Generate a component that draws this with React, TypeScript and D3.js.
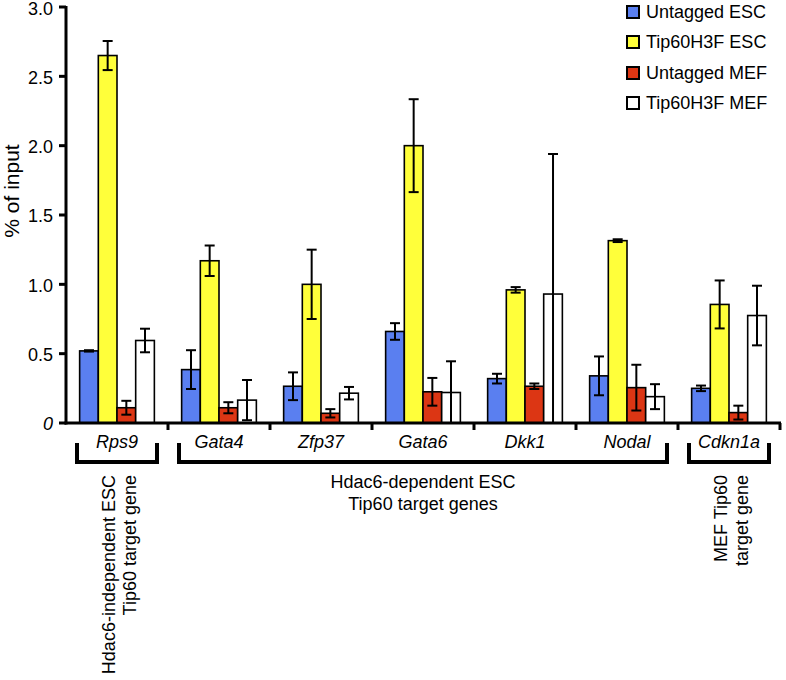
import * as d3 from 'd3';

const genes = ['Rps9', 'Gata4', 'Zfp37', 'Gata6', 'Dkk1', 'Nodal', 'Cdkn1a'];
const seriesNames = ['Untagged ESC', 'Tip60H3F ESC', 'Untagged MEF', 'Tip60H3F MEF'];
const seriesColors = ['#5a7ff0', '#ffff3a', '#dc3614', '#ffffff'];

const untaggedESC = [0.52, 0.385, 0.265, 0.66, 0.32, 0.34, 0.25];
const untaggedESCErr = [0.005, 0.14, 0.1, 0.06, 0.035, 0.14, 0.02];
const tipESC = [2.65, 1.17, 1.0, 2.0, 0.96, 1.315, 0.855];
const tipESCErr = [0.105, 0.11, 0.25, 0.335, 0.02, 0.01, 0.173];
const untaggedMEF = [0.11, 0.11, 0.07, 0.225, 0.265, 0.255, 0.075];
const untaggedMEFErr = [0.05, 0.04, 0.03, 0.1, 0.02, 0.165, 0.05];
const tipMEF = [0.595, 0.165, 0.215, 0.22, 0.93, 0.19, 0.775];
const tipMEFErr = [0.085, 0.145, 0.045, 0.225, 1.01, 0.09, 0.215];

const yTicks = [0, 0.5, 1, 1.5, 2, 2.5, 3];

// gene groups underneath the axis
const brackets = [
  { from: 'Rps9', to: 'Rps9', lines: ['Hdac6-independent ESC', 'Tip60 target gene'], rotated: true },
  { from: 'Gata4', to: 'Nodal', lines: ['Hdac6-dependent ESC', 'Tip60 target genes'], rotated: false },
  { from: 'Cdkn1a', to: 'Cdkn1a', lines: ['MEF Tip60', 'target gene'], rotated: true },
];

const FONT = '"Liberation Sans", Arial, Helvetica, sans-serif';

export default function App() {
  const W = 786;
  const H = 680;
  const values = [untaggedESC, tipESC, untaggedMEF, tipMEF];
  const errors = [untaggedESCErr, tipESCErr, untaggedMEFErr, tipMEFErr];

  const x0 = d3.scaleBand<string>().domain(genes).range([66, 780]).padding(0);
  const x1 = d3.scaleBand<string>().domain(seriesNames).range([0, x0.bandwidth()]).paddingInner(0).paddingOuter(0.73);
  const y = d3.scaleLinear().domain([0, 3]).range([423, 7]);

  const fmt = d3.format('.1f');
  const capW = 10;

  return (
    <svg width={W} height={H} style={{ position: 'absolute', left: 0, top: 0, background: '#fff' }} fontFamily={FONT}>
      {/* bars */}
      {genes.map((g, gi) => (
        <g key={g} transform={`translate(${x0(g)},0)`}>
          {seriesNames.map((s, si) => {
            const v = values[si][gi];
            return (
              <rect key={s} x={x1(s)} y={y(v)} width={x1.bandwidth()} height={y(0) - y(v)}
                fill={seriesColors[si]} stroke="#000" strokeWidth={1.6} />
            );
          })}
          {seriesNames.map((s, si) => {
            const v = values[si][gi];
            const e = errors[si][gi];
            const cx = (x1(s) as number) + x1.bandwidth() / 2;
            const hi = y(v + e);
            const lo = y(Math.max(0, v - e));
            return (
              <g key={s + 'e'} stroke="#000" strokeWidth={2}>
                <line x1={cx} x2={cx} y1={hi} y2={lo} />
                <line x1={cx - capW / 2} x2={cx + capW / 2} y1={hi} y2={hi} />
                <line x1={cx - capW / 2} x2={cx + capW / 2} y1={lo} y2={lo} />
              </g>
            );
          })}
        </g>
      ))}

      {/* y axis */}
      <line x1={66} x2={66} y1={y(3) - 1} y2={y(0) + 1.5} stroke="#000" strokeWidth={3} />
      {yTicks.map(t => (
        <g key={t} transform={`translate(0,${y(t)})`}>
          <line x1={59} x2={66} stroke="#000" strokeWidth={3} />
          <text x={53} y={t === 3 ? 2 : 1} dy="0.35em" textAnchor="end" fontSize={18} fontStyle={t === 0 ? 'italic' : 'normal'}>
            {t === 0 ? '0' : fmt(t)}
          </text>
        </g>
      ))}
      <text transform={`translate(19,191) rotate(-90)`} textAnchor="middle" fontSize={21}>% of input</text>

      {/* x axis */}
      <line x1={64.5} x2={781} y1={y(0)} y2={y(0)} stroke="#000" strokeWidth={3} />
      {genes.map(g => (
        <line key={g + 't'} x1={(x0(g) as number) + x0.bandwidth()} x2={(x0(g) as number) + x0.bandwidth()}
          y1={y(0)} y2={y(0) + 7} stroke="#000" strokeWidth={3} />
      ))}
      {genes.map(g => (
        <text key={g + 'l'} x={(x0(g) as number) + x0.bandwidth() / 2} y={448} textAnchor="middle"
          fontSize={18} fontStyle="italic">{g}</text>
      ))}

      {/* brackets */}
      {brackets.map(b => {
        const left = (x0(b.from) as number) + 11;
        const right = (x0(b.to) as number) + x0.bandwidth() - 11;
        const mid = (left + right) / 2;
        return (
          <g key={b.from}>
            <path d={`M${left},443 V462 H${right} V443`} fill="none" stroke="#000" strokeWidth={4} />
            {b.rotated
              ? b.lines.map((ln, i) => (
                <text key={ln} transform={`translate(${mid - 2 + i * 21},475) rotate(-90)`} textAnchor="end" fontSize={18}>{ln}</text>
              ))
              : b.lines.map((ln, i) => (
                <text key={ln} x={mid} y={488 + i * 22} textAnchor="middle" fontSize={18}>{ln}</text>
              ))}
          </g>
        );
      })}

      {/* legend */}
      {seriesNames.map((s, i) => {
        const cy = [12, 42, 73, 103][i];
        return (
          <g key={s + 'lg'}>
            <rect x={627} y={cy - 6} width={12} height={12} fill={seriesColors[i]} stroke="#000" strokeWidth={2} />
            <text x={646} y={cy} dy="0.36em" fontSize={18}>{s}</text>
          </g>
        );
      })}
    </svg>
  );
}
